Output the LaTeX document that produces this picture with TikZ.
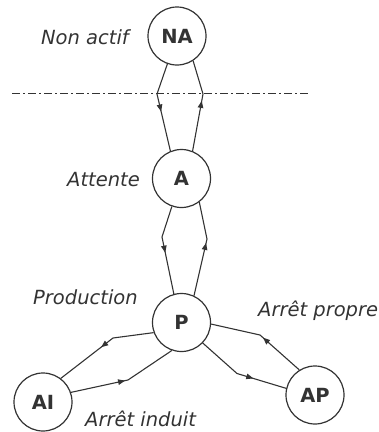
\documentclass[tikz,border=0pt]{standalone}
\usepackage{fontspec}
\setmainfont{DejaVu Sans}
\usetikzlibrary{arrows.meta,decorations.markings}
\definecolor{ink}{HTML}{333333}
\tikzset{
  statenode/.style={circle,draw=ink,line width=1.2pt,minimum size=58pt,inner sep=0pt,
    font=\fontsize{19.5}{22}\selectfont\bfseries,text=ink},
  lbl/.style={inner sep=0pt,font=\fontsize{19.5}{22}\selectfont\itshape,text=ink},
  conn/.style={draw=ink,line width=1.1pt},
  mk/.style={postaction={decorate,decoration={markings,
    mark=at position #1 with {\arrow{Triangle[length=7pt,width=5.5pt]}}}}},
  dashdotline/.style={draw=ink,line width=1pt,dash pattern=on 8pt off 3pt on 2pt off 3pt}
}
\begin{document}
\begin{tikzpicture}[x=1pt,y=-1pt,color=ink]
\useasboundingbox (0,0) rectangle (379,432);
% states
\node[statenode] (NA) at (177,36) {NA};
\node[statenode] (A)  at (181.5,178.5) {A};
\node[statenode] (P)  at (181.5,322.5) {P};
\node[statenode] (AI) at (43,402) {AI};
\node[statenode] (AP) at (315,395) {AP};
% labels
\node[lbl,anchor=base east] (lNA) at (129,44) {Non actif};
\node[lbl,anchor=base east] (lA) at (140,186.5) {Attente};
\node[lbl,anchor=base west] (lP) at (33,304) {Production};
\node[lbl,anchor=base west] (lAP) at (258,316.5) {Arrêt propre};
\node[lbl,anchor=base west] (lAI) at (85,426.5) {Arrêt induit};
% dash-dot line
\coordinate (d1) at (12,93.5);
\coordinate (d2) at (308,93.5);
\draw[dashdotline] (d1) -- (d2);
% kinks
\coordinate (k1) at (157,94);
\coordinate (k2) at (203,94);
\coordinate (k3) at (162,237);
\coordinate (k4) at (207,239);
\coordinate (k5) at (113,338);
\coordinate (k6) at (128,380);
\coordinate (k7) at (260,335);
\coordinate (k8) at (237,373.5);
% NA -> A
\draw[conn] (NA.-109) -- (k1);
\draw[conn,mk=18pt] (k1) -- (A.112);
% A -> NA
\draw[conn,mk=-7pt] (A.68) -- (k2);
\draw[conn] (k2) -- (NA.-57);
% A -> P
\draw[conn] (A.-109) -- (k3);
\draw[conn,mk=16pt] (k3) -- (P.105);
% P -> A
\draw[conn,mk=-4pt] (P.65) -- (k4);
\draw[conn] (k4) -- (A.-53);
% P -> AI
\draw[conn] (P.-160) -- (k5);
\draw[conn,mk=15pt] (k5) -- (AI.53);
% AI -> P
\draw[conn,mk=-3pt] (AI.19) -- (k6);
\draw[conn] (k6) -- (P.-109);
% AP -> P
\draw[conn,mk=-4pt] (AP.122) -- (k7);
\draw[conn] (k7) -- (P.-3);
% P -> AP
\draw[conn] (P.-44) -- (k8);
\draw[conn,mk=17pt] (k8) -- (AP.167);
\end{tikzpicture}
\end{document}
